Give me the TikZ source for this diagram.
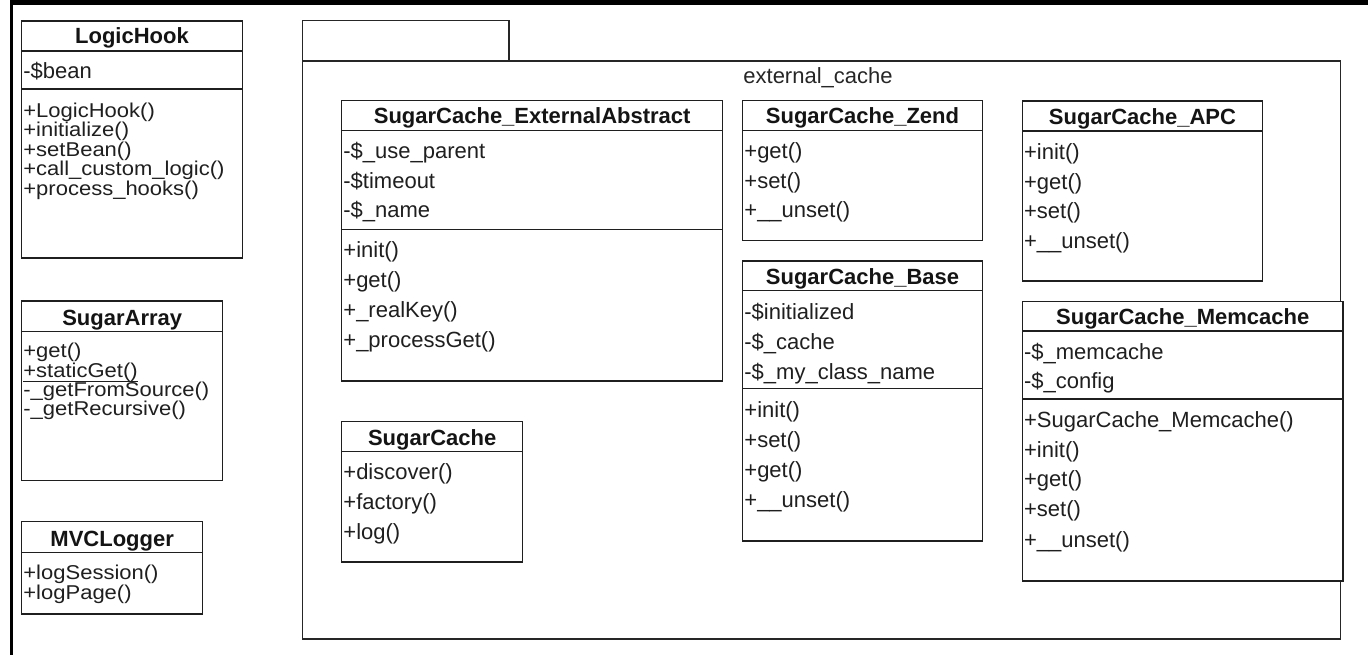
\documentclass[tikz,border=0pt]{standalone}
\usepackage{fontspec}
\setmainfont{Liberation Sans}
% wider face for the tightly spaced member lists of the free-standing classes
\newfontfamily\widerows[FakeStretch=1.1]{Liberation Sans}
\begin{document}
\begin{tikzpicture}[x=1pt,y=-1pt,
  cls/.style={draw=black!88, line width=1.3pt, inner sep=0pt, outer sep=0pt,
              anchor=north west, fill=white},
  pkg/.style={draw=black!85, line width=1.3pt, inner sep=0pt, outer sep=0pt,
              anchor=north west},
  cpt/.style={draw=black!88, line width=1.3pt},
  hdr/.style={anchor=base, inner sep=0pt, text=black!92,
              font=\fontsize{22}{24}\selectfont\bfseries},
  mem/.style={anchor=base west, inner sep=0pt, text=black!88,
              font=\fontsize{22}{24}\selectfont},
  memt/.style={anchor=base west, inner sep=0pt, text=black!88,
              font=\widerows\fontsize{20}{22}\selectfont},
  lbl/.style={anchor=base, inner sep=0pt, text=black!85,
              font=\fontsize{22}{24}\selectfont}]
\useasboundingbox (0,0) rectangle (1368,655);
\fill[white] (0,0) rectangle (1368,655);

% heavy frame along the top and left edges
\fill[black] (10,0) rectangle (1368,5.5);
\fill[black] (10,0) rectangle (13.3,655);

% ---------- package external_cache ----------
\node[pkg, minimum width=206.7pt, minimum height=40.3pt] (tab) at (302.3,20.7) {};
\node[pkg, minimum width=1038.4pt, minimum height=578pt] (pack) at (302.3,61) {};
\node[lbl] (packlbl) at (818,84) {external\_cache};

% ---------- LogicHook ----------
\node[cls, minimum width=220.8pt, minimum height=237pt] (lh) at (21.7,21) {};
\draw[cpt] ([yshift=-30pt]lh.north west) -- ([yshift=-30pt]lh.north east);
\draw[cpt] ([yshift=-68pt]lh.north west) -- ([yshift=-68pt]lh.north east);
\node[hdr] (lh-h) at (132,44) {LogicHook};
\node[mem] (lh-a1) at (23.2,79) {-\$bean};
\node[memt] (lh-m1) at (23.2,117.5) {+LogicHook()};
\node[memt] (lh-m2) at (23.2,137) {+initialize()};
\node[memt] (lh-m3) at (23.2,156.5) {+setBean()};
\node[memt] (lh-m4) at (23.2,176) {+call\_custom\_logic()};
\node[memt] (lh-m5) at (23.2,195.5) {+process\_hooks()};

% ---------- SugarArray ----------
\node[cls, minimum width=201pt, minimum height=179.7pt] (sa) at (21.7,301) {};
\draw[cpt] ([yshift=-30.7pt]sa.north west) -- ([yshift=-30.7pt]sa.north east);
\node[hdr] (sa-h) at (122.2,325) {SugarArray};
\node[memt] (sa-m1) at (23.2,357.5) {+get()};
\node[memt] (sa-m2) at (23.2,377.5) {+staticGet()};
\draw[line width=1.1pt, black!88] ([yshift=-4pt]sa-m2.base west) -- ([yshift=-4pt]sa-m2.base east);
\node[memt] (sa-m3) at (23.2,396.5) {-\_getFromSource()};
\node[memt] (sa-m4) at (23.2,415.5) {-\_getRecursive()};

% ---------- MVCLogger ----------
\node[cls, minimum width=181pt, minimum height=92.3pt] (mvc) at (21.7,521.7) {};
\draw[cpt] ([yshift=-31pt]mvc.north west) -- ([yshift=-31pt]mvc.north east);
\node[hdr] (mvc-h) at (112.2,546) {MVCLogger};
\node[memt] (mvc-m1) at (23.2,579) {+logSession()};
\node[memt] (mvc-m2) at (23.2,599) {+logPage()};

% ---------- SugarCache_ExternalAbstract ----------
\node[cls, minimum width=381pt, minimum height=280.3pt] (ea) at (341.7,100.7) {};
\draw[cpt] ([yshift=-30pt]ea.north west) -- ([yshift=-30pt]ea.north east);
\draw[cpt] ([yshift=-128.6pt]ea.north west) -- ([yshift=-128.6pt]ea.north east);
\node[hdr] (ea-h) at (532.2,124) {SugarCache\_ExternalAbstract};
\node[mem] (ea-a1) at (343.2,159) {-\$\_use\_parent};
\node[mem] (ea-a2) at (343.2,188.5) {-\$timeout};
\node[mem] (ea-a3) at (343.2,217.5) {-\$\_name};
\node[mem] (ea-m1) at (343.2,257.5) {+init()};
\node[mem] (ea-m2) at (343.2,287.5) {+get()};
\node[mem] (ea-m3) at (343.2,317.5) {+\_realKey()};
\node[mem] (ea-m4) at (343.2,347.5) {+\_processGet()};

% ---------- SugarCache ----------
\node[cls, minimum width=181pt, minimum height=140.3pt] (sc) at (341.7,421.7) {};
\draw[cpt] ([yshift=-30pt]sc.north west) -- ([yshift=-30pt]sc.north east);
\node[hdr] (sc-h) at (432.2,445) {SugarCache};
\node[mem] (sc-m1) at (343.2,479) {+discover()};
\node[mem] (sc-m2) at (343.2,509) {+factory()};
\node[mem] (sc-m3) at (343.2,539) {+log()};

% ---------- SugarCache_Zend ----------
\node[cls, minimum width=239.7pt, minimum height=140pt] (zd) at (742.7,100.7) {};
\draw[cpt] ([yshift=-30pt]zd.north west) -- ([yshift=-30pt]zd.north east);
\node[hdr] (zd-h) at (862.5,124) {SugarCache\_Zend};
\node[mem] (zd-m1) at (744.2,159) {+get()};
\node[mem] (zd-m2) at (744.2,188.5) {+set()};
\node[mem] (zd-m3) at (744.2,218) {+\_\_unset()};

% ---------- SugarCache_Base ----------
\node[cls, minimum width=239.7pt, minimum height=280pt] (bs) at (742.7,261) {};
\draw[cpt] ([yshift=-29.5pt]bs.north west) -- ([yshift=-29.5pt]bs.north east);
\draw[cpt] ([yshift=-127.3pt]bs.north west) -- ([yshift=-127.3pt]bs.north east);
\node[hdr] (bs-h) at (862.5,284) {SugarCache\_Base};
\node[mem] (bs-a1) at (744.2,319) {-\$initialized};
\node[mem] (bs-a2) at (744.2,349) {-\$\_cache};
\node[mem] (bs-a3) at (744.2,379) {-\$\_my\_class\_name};
\node[mem] (bs-m1) at (744.2,417.5) {+init()};
\node[mem] (bs-m2) at (744.2,447.5) {+set()};
\node[mem] (bs-m3) at (744.2,477.5) {+get()};
\node[mem] (bs-m4) at (744.2,507.5) {+\_\_unset()};

% ---------- SugarCache_APC ----------
\node[cls, minimum width=240.3pt, minimum height=180pt] (apc) at (1022.4,101) {};
\draw[cpt] ([yshift=-30pt]apc.north west) -- ([yshift=-30pt]apc.north east);
\node[hdr] (apc-h) at (1142.5,124.5) {SugarCache\_APC};
\node[mem] (apc-m1) at (1023.9,159.5) {+init()};
\node[mem] (apc-m2) at (1023.9,189.5) {+get()};
\node[mem] (apc-m3) at (1023.9,218.5) {+set()};
\node[mem] (apc-m4) at (1023.9,248.5) {+\_\_unset()};

% ---------- SugarCache_Memcache ----------
\node[cls, minimum width=320.6pt, minimum height=279.3pt] (mc) at (1022.4,301.7) {};
\draw[cpt] ([yshift=-29.3pt]mc.north west) -- ([yshift=-29.3pt]mc.north east);
\draw[cpt] ([yshift=-97.3pt]mc.north west) -- ([yshift=-97.3pt]mc.north east);
\node[hdr] (mc-h) at (1182.7,324.5) {SugarCache\_Memcache};
\node[mem] (mc-a1) at (1023.9,359) {-\$\_memcache};
\node[mem] (mc-a2) at (1023.9,388.5) {-\$\_config};
\node[mem] (mc-m1) at (1023.9,427) {+SugarCache\_Memcache()};
\node[mem] (mc-m2) at (1023.9,457.5) {+init()};
\node[mem] (mc-m3) at (1023.9,486.5) {+get()};
\node[mem] (mc-m4) at (1023.9,516.5) {+set()};
\node[mem] (mc-m5) at (1023.9,547.5) {+\_\_unset()};
\end{tikzpicture}
\end{document}
